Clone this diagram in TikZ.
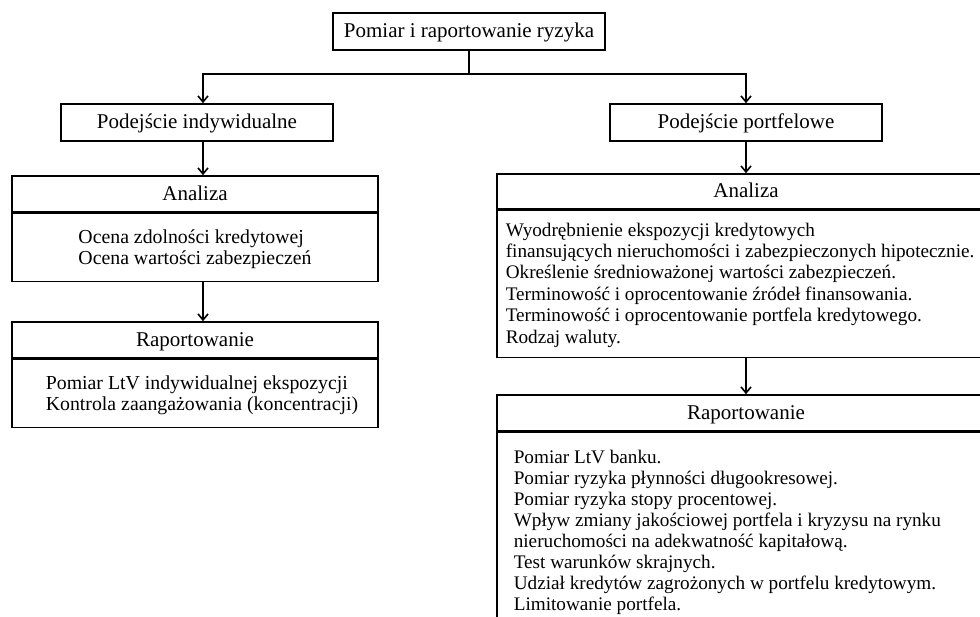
\documentclass[tikz,border=0pt]{standalone}
\usepackage{fontspec}
\setmainfont{Liberation Serif}
\usetikzlibrary{arrows.meta}
\begin{document}
\begin{tikzpicture}[x=1pt,y=-1pt, line width=1.6pt,
 box/.style={draw, rectangle, inner sep=0pt, text height=14pt, text depth=1pt, font=\fontsize{21}{24}\selectfont},
 body/.style={draw, rectangle, inner sep=0pt},
 txt/.style={inner sep=0pt, align=left, font=\fontsize{19.2}{21.4}\selectfont},
 arr/.style={-{Straight Barb[length=6pt,width=10pt]}},
 arrs/.style={{Straight Barb[length=6pt,width=10pt]}-{Straight Barb[length=6pt,width=10pt]}}]
\useasboundingbox (0,0) rectangle (980,617);
\clip (0,0) rectangle (980,617);

\node[box, minimum width=272pt, minimum height=37pt] (top) at (469,31.5) {Pomiar i raportowanie ryzyka};
\node[box, minimum width=272pt, minimum height=37pt] (pi) at (197,122.5) {Podejście indywidualne};
\node[box, minimum width=272pt, minimum height=37pt] (pp) at (746,122.5) {Podejście portfelowe};

\node[box, minimum width=366pt, minimum height=36pt] (lat) at (195,194) {Analiza};
\node[body, minimum width=366pt, minimum height=68pt, anchor=north] (lab) at (lat.south) {};
\node[box, minimum width=366pt, minimum height=36pt] (lrt) at (195,340) {Raportowanie};
\node[body, minimum width=366pt, minimum height=68pt, anchor=north] (lrb) at (lrt.south) {};

\node[box, minimum width=498pt, minimum height=35pt] (rat) at (746,191.5) {Analiza};
\node[body, minimum width=498pt, minimum height=147pt, anchor=north] (rab) at (rat.south) {};
\node[box, minimum width=498pt, minimum height=36pt] (rrt) at (746,413) {Raportowanie};
\node[body, minimum width=498pt, minimum height=220pt, anchor=north] (rrb) at (rrt.south) {};

\coordinate (jl) at (203,74);
\coordinate (jr) at (746,74);
\draw (top.south) -- (top.south |- jl);
\draw[arrs] (jl |- pi.north) -- (jl) -- (jr) -- (pp.north);
\draw[arr] (jl |- pi.south) -- (jl |- lat.north);
\draw[arr] (jl |- lab.south) -- (jl |- lrt.north);
\draw[arr] (pp.south) -- (rat.north);
\draw[arr] (rab.south) -- (rrt.north);

\node[txt, font=\fontsize{19.8}{21}\selectfont, anchor=north] (labt) at (195,229) {Ocena zdolności kredytowej\\Ocena wartości zabezpieczeń};
\node[txt, font=\fontsize{19.8}{20.5}\selectfont, anchor=north] (lrbt) at (202,375) {Pomiar LtV indywidualnej ekspozycji\\Kontrola zaangażowania (koncentracji)};
\node[txt, anchor=north west] (rabt) at (505,222) {Wyodrębnienie ekspozycji kredytowych\\finansujących nieruchomości i zabezpieczonych hipotecznie.\\Określenie średnioważonej wartości zabezpieczeń.\\Terminowość i oprocentowanie źródeł finansowania.\\Terminowość i oprocentowanie portfela kredytowego.\\Rodzaj waluty.};
\node[txt, font=\fontsize{19.2}{21}\selectfont, anchor=north west] (rrbt) at (513,449) {Pomiar LtV banku.\\Pomiar ryzyka płynności długookresowej.\\Pomiar ryzyka stopy procentowej.\\Wpływ zmiany jakościowej portfela i kryzysu na rynku\\nieruchomości na adekwatność kapitałową.\\Test warunków skrajnych.\\Udział kredytów zagrożonych w portfelu kredytowym.\\Limitowanie portfela.};
\end{tikzpicture}
\end{document}
